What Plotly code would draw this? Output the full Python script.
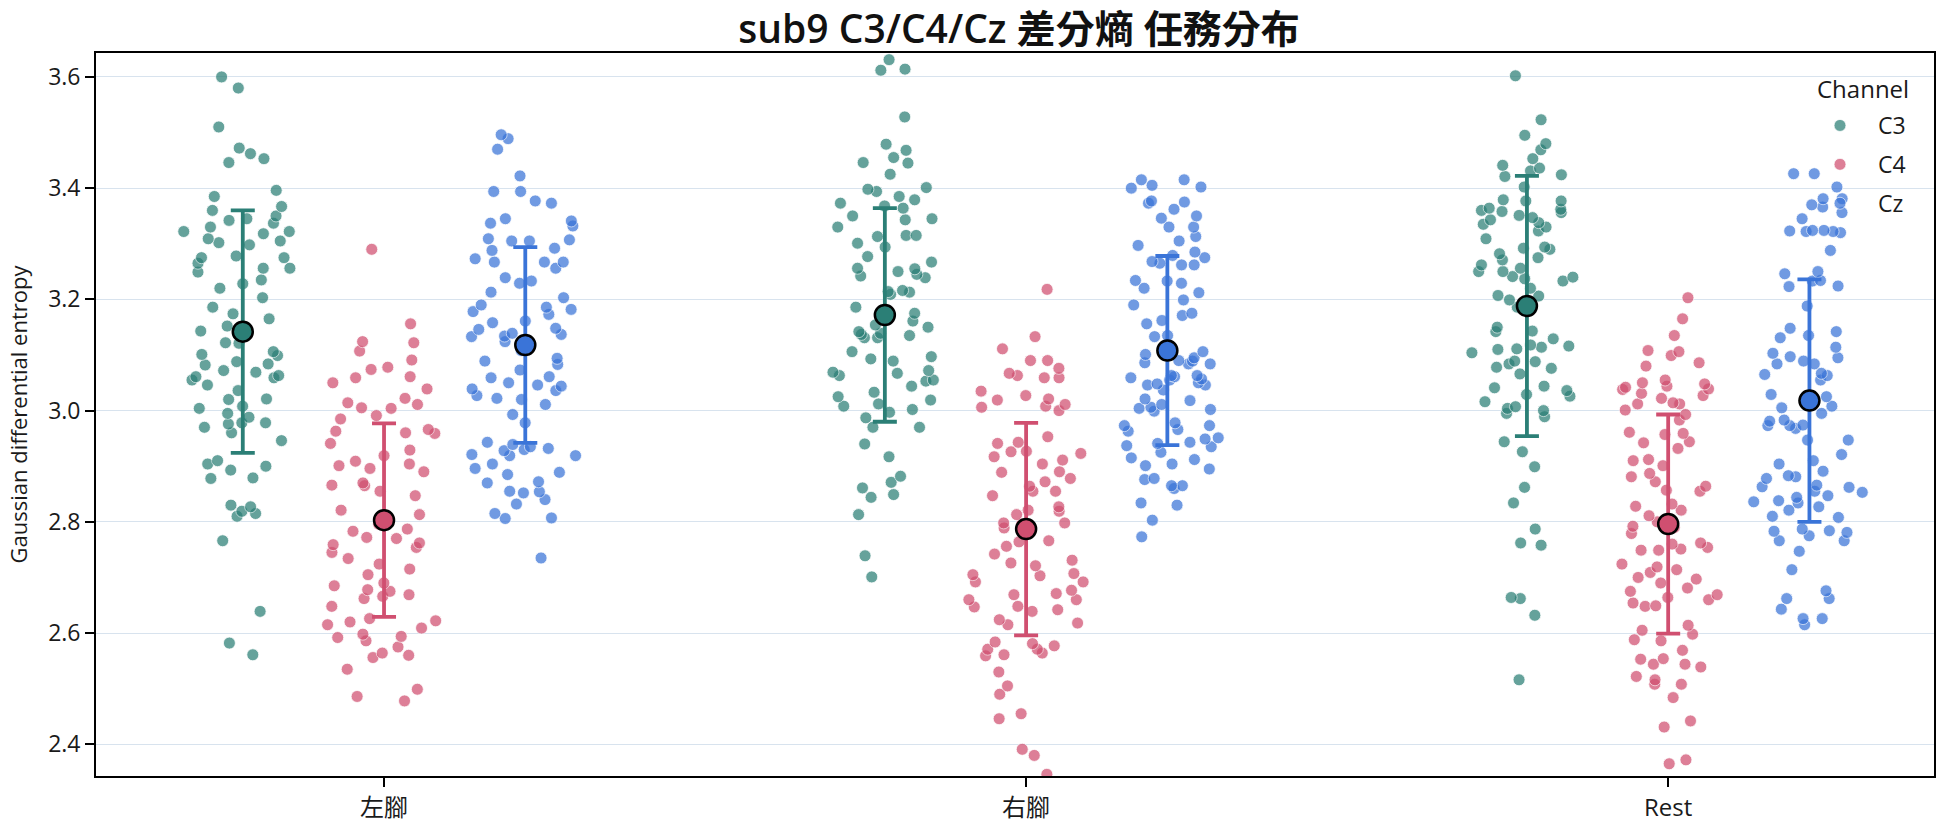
import plotly.graph_objects as go

categories = ["左腳", "右腳", "Rest"]
channels = ["C3", "C4", "Cz"]

# ---- per-trial values ----
c3_left = [3.600, 3.580, 3.510, 3.472, 3.462, 3.453, 3.446, 3.396, 3.385, 3.367, 3.360, 3.350, 3.345,
           3.342, 3.337, 3.330, 3.322, 3.322, 3.318, 3.309, 3.305, 3.302, 3.298, 3.278, 3.275, 3.275,
           3.265, 3.256, 3.256, 3.249, 3.235, 3.228, 3.220, 3.203, 3.186, 3.174, 3.165, 3.152, 3.143,
           3.122, 3.121, 3.106, 3.101, 3.099, 3.088, 3.084, 3.082, 3.072, 3.069, 3.063, 3.061, 3.059,
           3.055, 3.046, 3.036, 3.021, 3.020, 3.008, 3.004, 2.995, 2.988, 2.978, 2.978, 2.976, 2.970,
           2.960, 2.946, 2.910, 2.904, 2.900, 2.893, 2.879, 2.878, 2.830, 2.827, 2.819, 2.815, 2.810,
           2.766, 2.639, 2.582, 2.561]
c4_left = [3.290, 3.156, 3.122, 3.124, 3.107, 3.091, 3.078, 3.074, 3.061, 3.059, 3.050, 3.039, 3.022,
           3.014, 3.011, 3.005, 3.004, 2.991, 2.985, 2.966, 2.963, 2.960, 2.959, 2.941, 2.929, 2.919,
           2.909, 2.904, 2.901, 2.896, 2.890, 2.870, 2.866, 2.865, 2.855, 2.847, 2.821, 2.813, 2.796,
           2.787, 2.783, 2.772, 2.770, 2.762, 2.759, 2.754, 2.745, 2.734, 2.724, 2.715, 2.705, 2.690,
           2.685, 2.678, 2.675, 2.669, 2.666, 2.662, 2.648, 2.626, 2.622, 2.620, 2.615, 2.609, 2.598,
           2.594, 2.592, 2.586, 2.575, 2.564, 2.560, 2.556, 2.535, 2.499, 2.486, 2.478]
cz_left = [3.496, 3.489, 3.470, 3.422, 3.394, 3.394, 3.377, 3.373, 3.345, 3.341, 3.337, 3.332, 3.309,
           3.307, 3.305, 3.305, 3.292, 3.288, 3.273, 3.267, 3.267, 3.267, 3.256, 3.239, 3.233, 3.229,
           3.213, 3.203, 3.190, 3.186, 3.182, 3.178, 3.173, 3.161, 3.158, 3.148, 3.146, 3.139, 3.137,
           3.134, 3.133, 3.124, 3.108, 3.094, 3.089, 3.083, 3.073, 3.061, 3.059, 3.050, 3.046, 3.044,
           3.039, 3.036, 3.027, 3.022, 3.020, 3.011, 2.993, 2.978, 2.943, 2.939, 2.935, 2.932, 2.930,
           2.928, 2.921, 2.919, 2.919, 2.904, 2.896, 2.889, 2.885, 2.872, 2.870, 2.855, 2.854, 2.852,
           2.840, 2.832, 2.815, 2.807, 2.806, 2.735]
c3_right = [3.631, 3.612, 3.614, 3.528, 3.479, 3.468, 3.455, 3.446, 3.445, 3.425, 3.401, 3.398, 3.394,
            3.385, 3.379, 3.373, 3.368, 3.364, 3.350, 3.345, 3.343, 3.330, 3.315, 3.315, 3.313, 3.301,
            3.294, 3.277, 3.267, 3.256, 3.255, 3.250, 3.245, 3.242, 3.239, 3.216, 3.214, 3.213, 3.209,
            3.186, 3.175, 3.173, 3.161, 3.154, 3.150, 3.142, 3.139, 3.137, 3.135, 3.131, 3.131, 3.106,
            3.097, 3.093, 3.089, 3.072, 3.069, 3.067, 3.063, 3.055, 3.053, 3.044, 3.033, 3.025, 3.019,
            3.012, 3.008, 3.002, 2.997, 2.987, 2.970, 2.970, 2.940, 2.917, 2.882, 2.871, 2.861, 2.849,
            2.844, 2.813, 2.739, 2.701]
c4_right = [3.218, 3.133, 3.111, 3.090, 3.090, 3.076, 3.067, 3.063, 3.059, 3.059, 3.035, 3.027, 3.021,
            3.019, 3.011, 3.008, 3.006, 3.000, 2.953, 2.943, 2.941, 2.927, 2.926, 2.923, 2.917, 2.911,
            2.904, 2.890, 2.889, 2.878, 2.872, 2.864, 2.855, 2.855, 2.847, 2.827, 2.821, 2.819, 2.813,
            2.798, 2.798, 2.796, 2.789, 2.766, 2.764, 2.756, 2.742, 2.731, 2.726, 2.721, 2.707, 2.705,
            2.703, 2.692, 2.692, 2.677, 2.671, 2.669, 2.660, 2.660, 2.648, 2.647, 2.642, 2.639, 2.624,
            2.618, 2.615, 2.584, 2.581, 2.577, 2.571, 2.571, 2.564, 2.561, 2.559, 2.530, 2.505, 2.490,
            2.455, 2.446, 2.391, 2.380, 2.346]
cz_right = [3.415, 3.415, 3.405, 3.402, 3.400, 3.377, 3.375, 3.373, 3.362, 3.350, 3.346, 3.330, 3.330,
            3.313, 3.305, 3.297, 3.285, 3.279, 3.275, 3.268, 3.265, 3.262, 3.262, 3.234, 3.233, 3.229,
            3.220, 3.212, 3.199, 3.190, 3.175, 3.171, 3.162, 3.156, 3.135, 3.133, 3.106, 3.101, 3.095,
            3.090, 3.089, 3.086, 3.084, 3.084, 3.063, 3.063, 3.061, 3.059, 3.057, 3.055, 3.050, 3.048,
            3.046, 3.046, 3.037, 3.021, 3.018, 3.011, 3.006, 3.004, 3.002, 2.999, 2.978, 2.973, 2.973,
            2.966, 2.963, 2.951, 2.949, 2.943, 2.941, 2.937, 2.935, 2.925, 2.915, 2.912, 2.904, 2.901,
            2.895, 2.878, 2.876, 2.865, 2.865, 2.860, 2.834, 2.830, 2.803, 2.773]
c3_rest = [3.602, 3.523, 3.495, 3.480, 3.469, 3.453, 3.441, 3.436, 3.431, 3.424, 3.421, 3.402, 3.379,
           3.377, 3.377, 3.364, 3.362, 3.360, 3.358, 3.356, 3.351, 3.347, 3.343, 3.338, 3.335, 3.330,
           3.323, 3.309, 3.294, 3.292, 3.290, 3.282, 3.275, 3.271, 3.262, 3.256, 3.250, 3.250, 3.241,
           3.240, 3.237, 3.233, 3.220, 3.207, 3.206, 3.199, 3.186, 3.150, 3.143, 3.142, 3.129, 3.118,
           3.116, 3.114, 3.111, 3.110, 3.104, 3.089, 3.088, 3.084, 3.078, 3.076, 3.066, 3.044, 3.041,
           3.036, 3.029, 3.026, 3.016, 3.007, 3.004, 3.000, 2.995, 2.989, 2.944, 2.926, 2.899, 2.862,
           2.834, 2.787, 2.762, 2.758, 2.664, 2.662, 2.632, 2.516]
c4_rest = [3.203, 3.165, 3.135, 3.108, 3.106, 3.099, 3.086, 3.080, 3.055, 3.050, 3.048, 3.044, 3.042,
           3.039, 3.038, 3.031, 3.027, 3.022, 3.014, 3.012, 3.012, 3.001, 2.993, 2.983, 2.961, 2.959,
           2.957, 2.944, 2.942, 2.932, 2.912, 2.910, 2.901, 2.887, 2.881, 2.872, 2.864, 2.857, 2.855,
           2.832, 2.828, 2.821, 2.811, 2.792, 2.800, 2.790, 2.779, 2.762, 2.760, 2.754, 2.751, 2.749,
           2.749, 2.724, 2.719, 2.714, 2.709, 2.700, 2.697, 2.690, 2.681, 2.675, 2.669, 2.664, 2.660,
           2.654, 2.649, 2.648, 2.614, 2.605, 2.598, 2.588, 2.586, 2.569, 2.554, 2.553, 2.544, 2.544,
           2.539, 2.522, 2.516, 2.508, 2.508, 2.484, 2.442, 2.431, 2.372, 2.365]
cz_rest = [3.426, 3.426, 3.402, 3.381, 3.381, 3.370, 3.366, 3.356, 3.345, 3.324, 3.322, 3.322, 3.323,
           3.324, 3.320, 3.288, 3.250, 3.246, 3.234, 3.233, 3.224, 3.223, 3.188, 3.148, 3.142, 3.135,
           3.131, 3.114, 3.103, 3.097, 3.095, 3.089, 3.084, 3.084, 3.067, 3.065, 3.063, 3.055, 3.029,
           3.025, 3.025, 3.008, 3.005, 2.995, 2.983, 2.981, 2.974, 2.973, 2.973, 2.968, 2.947, 2.947,
           2.921, 2.910, 2.904, 2.891, 2.883, 2.881, 2.878, 2.866, 2.863, 2.862, 2.855, 2.853, 2.847,
           2.844, 2.838, 2.836, 2.834, 2.827, 2.821, 2.810, 2.808, 2.787, 2.784, 2.783, 2.781, 2.775,
           2.766, 2.766, 2.747, 2.714, 2.676, 2.662, 2.662, 2.643, 2.626, 2.626, 2.615]

# ---- mean and SD per channel across tasks ----
c3_mean = [3.142, 3.172, 3.188]
c3_sd = [0.218, 0.192, 0.234]
c4_mean = [2.803, 2.787, 2.796]
c4_sd = [0.174, 0.191, 0.197]
cz_mean = [3.118, 3.108, 3.018]
cz_sd = [0.176, 0.170, 0.218]

y_ticks = [2.4, 2.6, 2.8, 3.0, 3.2, 3.4, 3.6]

values = {
    "C3": [c3_left, c3_right, c3_rest],
    "C4": [c4_left, c4_right, c4_rest],
    "Cz": [cz_left, cz_right, cz_rest],
}
means = {"C3": (c3_mean, c3_sd), "C4": (c4_mean, c4_sd), "Cz": (cz_mean, cz_sd)}

base_color = {"C3": "#2b7f76", "C4": "#d04f70", "Cz": "#3a74d8"}
dodge = {"C3": -0.22, "C4": 0.0, "Cz": 0.22}

FONT = "Open Sans, Noto Sans CJK TC, sans-serif"
fig = go.Figure()

for ch in channels:
    xs, ys = [], []
    for ci, vals in enumerate(values[ch]):
        xs += [ci + dodge[ch]] * len(vals)
        ys += vals
    fig.add_trace(go.Box(
        x=xs, y=ys, name=ch, boxpoints="all", jitter=1.0, pointpos=0,
        width=0.2, line=dict(width=0, color="rgba(0,0,0,0)"),
        fillcolor="rgba(0,0,0,0)", whiskerwidth=0,
        marker=dict(color=base_color[ch], size=12, opacity=0.72,
                    line=dict(color="white", width=0.8)),
        showlegend=False, hoveron="points",
    ))

for ch in channels:
    m, s = means[ch]
    fig.add_trace(go.Scatter(
        x=[ci + dodge[ch] for ci in range(len(categories))], y=m, mode="markers",
        marker=dict(color=base_color[ch], size=20, line=dict(color="black", width=2.5)),
        error_y=dict(type="data", array=s, visible=True, color=base_color[ch],
                     thickness=3.8, width=12),
        showlegend=False,
    ))

for ch in channels:
    fig.add_trace(go.Scatter(
        x=[None], y=[None], mode="markers", name=ch, legendgroup=ch,
        marker=dict(color=base_color[ch], size=12, opacity=0.72,
                    line=dict(color="white", width=0.8)),
    ))

fig.update_layout(
    width=1944, height=827,
    margin=dict(l=96, r=10, t=53, b=51, autoexpand=False),
    paper_bgcolor="white", plot_bgcolor="white",
    font=dict(family=FONT, size=23, color="#1a1a1a"),
    title=dict(text="sub9 C3/C4/Cz 差分熵 任務分布", x=1019 / 1944, xanchor="center",
               y=1 - 29 / 827, yanchor="middle", yref="container",
               font=dict(size=39, weight=600, family=FONT, color="#111")),
    xaxis=dict(range=[-0.4486, 2.414], tickvals=[0, 1, 2], ticktext=categories,
               automargin=False,
               showgrid=False, zeroline=False, showline=True, mirror=True,
               linecolor="black", linewidth=1.8, ticks="outside", ticklen=9,
               tickwidth=1.8, tickcolor="black", tickfont=dict(size=24)),
    yaxis=dict(range=[2.343, 3.643], tickvals=y_ticks, tickformat=".1f",
               automargin=False,
               showgrid=True, gridcolor="#d8e3ee", gridwidth=1.3, zeroline=False,
               showline=True, mirror=True, linecolor="black", linewidth=1.8,
               ticks="outside", ticklen=9, tickwidth=1.8, tickcolor="black",
               title=dict(text="Gaussian differential entropy", font=dict(size=22),
                          standoff=14),
               tickfont=dict(size=23)),
    legend=dict(x=(1802 - 96) / 1838, xanchor="left",
                y=1 - (104 - 53) / 723, yanchor="top", bgcolor="rgba(255,255,255,0)",
                font=dict(size=23), tracegroupgap=6, itemwidth=66),
    annotations=[dict(text="Channel", xref="paper", yref="paper",
                      x=(1911 - 96) / 1838, xanchor="right",
                      y=1 - (88 - 53) / 723, yanchor="middle",
                      showarrow=False, font=dict(size=24))],
)

fig.write_html("out.html")
